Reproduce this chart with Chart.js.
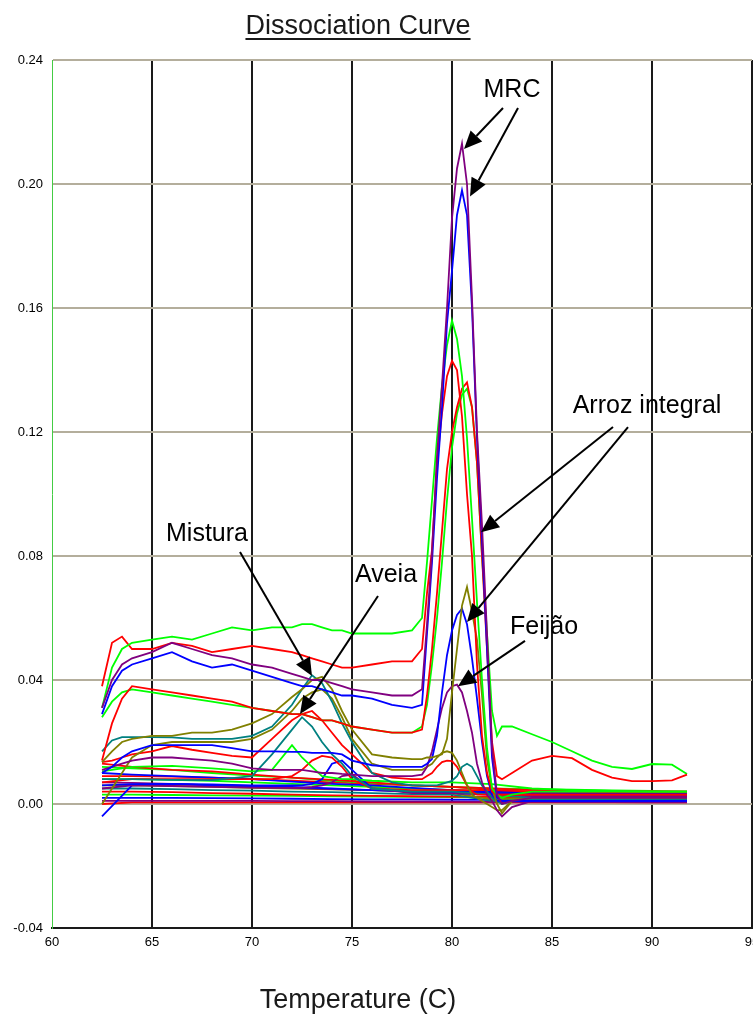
<!DOCTYPE html>
<html>
<head>
<meta charset="utf-8">
<title>Dissociation Curve</title>
<script src="https://cdn.jsdelivr.net/npm/chart.js@4.4.1/dist/chart.umd.min.js"></script>
<style>
  html, body { margin: 0; padding: 0; background: #fff; overflow: hidden; }
  #wrap { position: relative; width: 753px; height: 1014px; overflow: hidden; }
  canvas { display: block; }
</style>
</head>
<body>
<div id="wrap"><canvas id="myChart" width="770" height="1014"></canvas></div>
<script>
// textos
const chartTitle = 'Dissociation Curve';
const xTitle = 'Temperature (C)';

// eixos
const xTicks = [60, 65, 70, 75, 80, 85, 90, 95];
const yTicks = [-0.04, 0.00, 0.04, 0.08, 0.12, 0.16, 0.20, 0.24];

// temperaturas (grade fina perto do pico)
const temps = [62.5, 63, 63.5, 64, 65, 66, 67, 68, 69, 70, 71, 72, 72.5, 73, 73.5, 74, 74.5, 75, 76, 77, 78,
  78.5, 78.75, 79, 79.25, 79.5, 79.75, 80, 80.25, 80.5, 80.75, 81, 81.25, 81.5, 81.75, 82, 82.25, 82.5,
  83, 84, 85, 86, 87, 88, 89, 90, 91, 91.75];
const tempsBump = [62.5, 64, 66, 68, 70, 71, 72, 72.5, 73, 73.5, 74, 74.5, 75, 76, 78, 80, 82, 84, 86, 88, 90, 91.75];
const tempsBase = [62.5, 64, 66, 68, 70, 72, 74, 76, 78, 80, 82, 84, 86, 88, 90, 91.75];

// curvas com pico (derivada da fluorescencia)
const mrcPurple = [0.031, 0.040, 0.045, 0.047, 0.049, 0.052, 0.050, 0.048, 0.047, 0.045, 0.044, 0.042, 0.041, 0.040, 0.040, 0.039, 0.038, 0.037, 0.036, 0.035, 0.035,
  0.037, 0.058, 0.081, 0.112, 0.135, 0.160, 0.189, 0.205, 0.213, 0.200, 0.163, 0.120, 0.090, 0.055, 0.018, 0.003, 0.000,
  0.001, 0.002, 0.002, 0.002, 0.002, 0.002, 0.002, 0.002, 0.002, 0.002];
const mrcBlue = [0.029, 0.038, 0.043, 0.045, 0.047, 0.049, 0.046, 0.044, 0.045, 0.043, 0.041, 0.039, 0.038, 0.038, 0.037, 0.036, 0.035, 0.035, 0.034, 0.032, 0.031,
  0.032, 0.055, 0.078, 0.105, 0.128, 0.155, 0.172, 0.190, 0.198, 0.190, 0.160, 0.118, 0.085, 0.050, 0.015, 0.002, 0.001,
  0.001, 0.001, 0.001, 0.001, 0.001, 0.001, 0.001, 0.001, 0.001, 0.001];
const greenTop = [0.031, 0.044, 0.050, 0.052, 0.053, 0.054, 0.053, 0.055, 0.057, 0.056, 0.057, 0.057, 0.058, 0.058, 0.057, 0.056, 0.056, 0.055, 0.055, 0.055, 0.056,
  0.060, 0.078, 0.098, 0.118, 0.135, 0.148, 0.156, 0.150, 0.138, 0.118, 0.092, 0.065, 0.040, 0.018, 0.005, 0.003, 0.002,
  0.003, 0.004, 0.004, 0.004, 0.004, 0.004, 0.004, 0.004, 0.004, 0.004];
const redTop = [0.038, 0.052, 0.054, 0.050, 0.050, 0.052, 0.051, 0.049, 0.050, 0.051, 0.050, 0.049, 0.048, 0.047, 0.046, 0.045, 0.044, 0.044, 0.045, 0.046, 0.046,
  0.050, 0.068, 0.082, 0.110, 0.126, 0.138, 0.143, 0.140, 0.125, 0.100, 0.080, 0.045, 0.022, 0.010, 0.004, 0.003, 0.003,
  0.003, 0.003, 0.003, 0.003, 0.003, 0.003, 0.003, 0.003, 0.003, 0.003];
const redMid = [0.014, 0.026, 0.034, 0.038, 0.037, 0.036, 0.035, 0.034, 0.033, 0.031, 0.030, 0.029, 0.029, 0.028, 0.027, 0.027, 0.026, 0.025, 0.024, 0.023, 0.023,
  0.024, 0.035, 0.050, 0.068, 0.088, 0.108, 0.120, 0.128, 0.134, 0.136, 0.128, 0.110, 0.080, 0.050, 0.020, 0.009, 0.008,
  0.010, 0.014, 0.0155, 0.0148, 0.011, 0.0085, 0.0074, 0.0074, 0.0076, 0.0095];
const greenMid = [0.028, 0.033, 0.036, 0.037, 0.036, 0.035, 0.034, 0.033, 0.032, 0.031, 0.030, 0.029, 0.029, 0.028, 0.027, 0.027, 0.026, 0.025, 0.024, 0.023, 0.023,
  0.025, 0.032, 0.045, 0.060, 0.078, 0.098, 0.115, 0.126, 0.132, 0.134, 0.128, 0.110, 0.080, 0.055, 0.030, 0.022, 0.025,
  0.025, 0.0225, 0.020, 0.017, 0.014, 0.012, 0.0113, 0.0129, 0.0127, 0.0097];
const oliveArroz = [0.0135, 0.017, 0.020, 0.021, 0.022, 0.022, 0.023, 0.023, 0.024, 0.026, 0.029, 0.0345, 0.037, 0.040, 0.041, 0.037, 0.030, 0.024, 0.016, 0.015, 0.0145,
  0.0145, 0.015, 0.015, 0.0155, 0.016, 0.021, 0.036, 0.050, 0.064, 0.070, 0.062, 0.053, 0.035, 0.0145, 0.005, 0.000, -0.003,
  0.001, 0.002, 0.002, 0.002, 0.002, 0.002, 0.002, 0.002, 0.002, 0.002];
const blueArroz = [0.010, 0.012, 0.015, 0.017, 0.019, 0.019, 0.019, 0.019, 0.018, 0.017, 0.017, 0.0168, 0.0168, 0.0165, 0.0165, 0.0165, 0.016, 0.014, 0.0125, 0.012, 0.012,
  0.012, 0.013, 0.0145, 0.022, 0.036, 0.048, 0.056, 0.061, 0.063, 0.058, 0.047, 0.034, 0.020, 0.009, 0.003, 0.001, 0.001,
  0.001, 0.001, 0.001, 0.001, 0.001, 0.001, 0.001, 0.001, 0.001, 0.001];
const purpleFeijao = [0.011, 0.012, 0.013, 0.014, 0.015, 0.015, 0.0145, 0.014, 0.013, 0.0115, 0.011, 0.011, 0.011, 0.0105, 0.010, 0.010, 0.0097, 0.0095, 0.009, 0.009, 0.009,
  0.0095, 0.012, 0.017, 0.024, 0.031, 0.036, 0.038, 0.0385, 0.036, 0.030, 0.023, 0.013, 0.007, 0.003, 0.001, -0.002, -0.004,
  -0.001, 0.001, 0.001, 0.001, 0.001, 0.001, 0.001, 0.001, 0.001, 0.001];
const tealMistura = [0.017, 0.0205, 0.0216, 0.0216, 0.0216, 0.0215, 0.021, 0.021, 0.021, 0.022, 0.025, 0.032, 0.037, 0.0415, 0.039, 0.033, 0.026, 0.020, 0.010, 0.007, 0.006,
  0.006, 0.006, 0.006, 0.006, 0.0065, 0.007, 0.0075, 0.009, 0.012, 0.013, 0.012, 0.009, 0.006, 0.004, 0.002, 0.001, 0.000,
  0.001, 0.001, 0.001, 0.001, 0.001, 0.001, 0.001, 0.001, 0.001, 0.001];
const oliveLow = [0.000, 0.005, 0.010, 0.015, 0.019, 0.020, 0.020, 0.020, 0.020, 0.021, 0.024, 0.030, 0.034, 0.036, 0.037, 0.034, 0.028, 0.021, 0.013, 0.011, 0.011,
  0.011, 0.012, 0.013, 0.015, 0.0165, 0.017, 0.0165, 0.014, 0.010, 0.006, 0.003, 0.002, 0.001, 0.000, -0.001, -0.002, -0.002,
  0.001, 0.001, 0.001, 0.001, 0.001, 0.001, 0.001, 0.001, 0.001, 0.001];
const redAveia = [0.0135, 0.014, 0.015, 0.016, 0.017, 0.0187, 0.0175, 0.0165, 0.0155, 0.015, 0.021, 0.027, 0.029, 0.030, 0.027, 0.023, 0.019, 0.016, 0.010, 0.0085, 0.008,
  0.008, 0.009, 0.010, 0.012, 0.0135, 0.014, 0.0138, 0.012, 0.009, 0.006, 0.004, 0.003, 0.003, 0.003, 0.003, 0.003, 0.003,
  0.003, 0.003, 0.003, 0.003, 0.003, 0.003, 0.003, 0.003, 0.003, 0.003];

// pequenas elevacoes (grade media)
const tealAveia = [0.008, 0.008, 0.0078, 0.0077, 0.009, 0.016, 0.024, 0.028, 0.025, 0.020, 0.016, 0.013, 0.009, 0.005, 0.004, 0.004, 0.003, 0.002, 0.002, 0.002, 0.002, 0.002];
const greenBump = [0.0105, 0.012, 0.0123, 0.0115, 0.0105, 0.011, 0.019, 0.015, 0.012, 0.009, 0.0085, 0.008, 0.008, 0.0075, 0.007, 0.007, 0.0064, 0.005, 0.0045, 0.0042, 0.004, 0.004];
const redBump = [0.007, 0.008, 0.008, 0.008, 0.008, 0.008, 0.009, 0.011, 0.014, 0.0155, 0.015, 0.012, 0.008, 0.005, 0.0045, 0.0045, 0.0045, 0.004, 0.004, 0.004, 0.004, 0.004];
const blueBump = [0.006, 0.0064, 0.0065, 0.0063, 0.006, 0.006, 0.006, 0.006, 0.0065, 0.008, 0.013, 0.014, 0.011, 0.005, 0.004, 0.004, 0.0035, 0.003, 0.003, 0.003, 0.003, 0.003];
const purpleBump = [0.005, 0.006, 0.0058, 0.0055, 0.0053, 0.0052, 0.0052, 0.0052, 0.0055, 0.006, 0.007, 0.009, 0.0095, 0.005, 0.0035, 0.0035, 0.003, 0.0025, 0.0025, 0.0025, 0.0025, 0.0025];

// linhas de base (brancos / sem produto)
const baseRed1 = [0.013, 0.012, 0.011, 0.0105, 0.0095, 0.0085, 0.0078, 0.007, 0.006, 0.0055, 0.005, 0.0045, 0.0042, 0.004, 0.004, 0.004];
const baseGreen1 = [0.012, 0.0115, 0.011, 0.010, 0.0092, 0.0085, 0.0075, 0.0068, 0.006, 0.0055, 0.005, 0.0048, 0.0046, 0.0044, 0.0042, 0.004];
const baseBlue3 = [0.010, 0.0095, 0.009, 0.0085, 0.008, 0.0072, 0.0065, 0.006, 0.0052, 0.0045, 0.004, 0.0037, 0.0035, 0.0034, 0.0033, 0.0033];
const baseRed2 = [0.009, 0.009, 0.0088, 0.0085, 0.008, 0.0075, 0.007, 0.0065, 0.006, 0.0055, 0.0045, 0.004, 0.0038, 0.0036, 0.0035, 0.0035];
const baseGreen2 = [0.008, 0.008, 0.0078, 0.0075, 0.007, 0.0065, 0.006, 0.0055, 0.005, 0.0045, 0.004, 0.0038, 0.0036, 0.0034, 0.0033, 0.0033];
const baseBlue1 = [-0.004, 0.006, 0.0065, 0.006, 0.0058, 0.0055, 0.005, 0.0045, 0.004, 0.0035, 0.003, 0.003, 0.0028, 0.0026, 0.0025, 0.0025];
const basePurple1 = [0.007, 0.0068, 0.0065, 0.006, 0.0056, 0.0052, 0.0048, 0.0045, 0.0042, 0.004, 0.0038, 0.0035, 0.0033, 0.003, 0.003, 0.003];
const baseOlive1 = [0.006, 0.006, 0.0058, 0.0055, 0.0052, 0.005, 0.0047, 0.0045, 0.004, 0.0035, 0.0015, 0.002, 0.002, 0.002, 0.002, 0.002];
const baseTeal1 = [0.005, 0.005, 0.0048, 0.0045, 0.0043, 0.004, 0.0038, 0.0035, 0.0032, 0.003, 0.001, 0.0015, 0.0015, 0.0015, 0.0015, 0.0015];
const baseRed3 = [0.004, 0.004, 0.0038, 0.0035, 0.0033, 0.003, 0.0028, 0.0026, 0.0025, 0.0024, 0.0023, 0.0022, 0.0021, 0.002, 0.002, 0.002];
const baseGreen3 = [0.003, 0.003, 0.0029, 0.0028, 0.0027, 0.0026, 0.0025, 0.0024, 0.0023, 0.0022, 0.0021, 0.002, 0.0018, 0.0016, 0.0015, 0.0015];
const baseBlue2 = [0.002, 0.002, 0.002, 0.0019, 0.0018, 0.0017, 0.0016, 0.0015, 0.0015, 0.0014, 0.0013, 0.0012, 0.0011, 0.001, 0.001, 0.001];
const basePurple2 = [0.001, 0.001, 0.001, 0.001, 0.001, 0.0009, 0.0009, 0.0008, 0.0008, 0.0008, 0.0007, 0.0007, 0.0006, 0.0006, 0.0005, 0.0005];
const baseRed4 = [0.000, 0.0005, 0.0005, 0.0005, 0.0005, 0.0005, 0.0005, 0.0005, 0.0005, 0.0005, 0.0005, 0.0005, 0.0005, 0.0005, 0.0005, 0.0005];

// cores do software do termociclador
const RED = '#ff0000', GREEN = '#00ff00', BLUE = '#0000ff', PURPLE = '#800080', OLIVE = '#808000', TEAL = '#008080';

const curves = [
  [mrcPurple, temps, PURPLE], [mrcBlue, temps, BLUE], [greenTop, temps, GREEN], [redTop, temps, RED],
  [redMid, temps, RED], [greenMid, temps, GREEN], [oliveArroz, temps, OLIVE], [blueArroz, temps, BLUE],
  [purpleFeijao, temps, PURPLE], [tealMistura, temps, TEAL], [oliveLow, temps, OLIVE], [redAveia, temps, RED],
  [tealAveia, tempsBump, TEAL], [greenBump, tempsBump, GREEN], [redBump, tempsBump, RED],
  [blueBump, tempsBump, BLUE], [purpleBump, tempsBump, PURPLE],
  [baseRed1, tempsBase, RED], [baseGreen1, tempsBase, GREEN], [baseBlue3, tempsBase, BLUE],
  [baseRed2, tempsBase, RED], [baseGreen2, tempsBase, GREEN], [baseBlue1, tempsBase, BLUE],
  [basePurple1, tempsBase, PURPLE], [baseOlive1, tempsBase, OLIVE], [baseTeal1, tempsBase, TEAL],
  [baseRed3, tempsBase, RED], [baseGreen3, tempsBase, GREEN], [baseBlue2, tempsBase, BLUE],
  [basePurple2, tempsBase, PURPLE], [baseRed4, tempsBase, RED]
];

// anotacoes: texto e setas em coordenadas de dados (temperatura, valor)
const notes = [
  { text: 'MRC', at: [83.0, 0.2303], arrows: [[82.55, 0.2245, 80.6, 0.2113], [83.3, 0.2245, 80.9, 0.196]] },
  { text: 'Arroz integral', at: [89.75, 0.1284], arrows: [[88.05, 0.1216, 81.45, 0.0877], [88.8, 0.1216, 80.75, 0.0587]] },
  { text: 'Mistura', at: [67.75, 0.0871], arrows: [[69.4, 0.0813, 73.0, 0.0413]] },
  { text: 'Aveia', at: [76.7, 0.0739], arrows: [[76.3, 0.0671, 72.4, 0.029]] },
  { text: 'Feijão', at: [84.6, 0.0571], arrows: [[83.65, 0.0526, 80.3, 0.038]] }
];

const FONT = '"Liberation Sans", Arial, Helvetica, sans-serif';

function drawArrow(ctx, x0, y0, x1, y1) {
  const a = Math.atan2(y1 - y0, x1 - x0);
  const len = 18, half = 8;
  const bx = x1 - len * Math.cos(a), by = y1 - len * Math.sin(a);
  ctx.beginPath();
  ctx.moveTo(x0, y0);
  ctx.lineTo(bx, by);
  ctx.stroke();
  ctx.beginPath();
  ctx.moveTo(x1, y1);
  ctx.lineTo(bx + half * Math.sin(a), by - half * Math.cos(a));
  ctx.lineTo(bx - half * Math.sin(a), by + half * Math.cos(a));
  ctx.closePath();
  ctx.fill();
}

const notesPlugin = {
  id: 'notes',
  afterDraw(chart) {
    const { ctx } = chart;
    const sx = chart.scales.x, sy = chart.scales.y;
    ctx.save();
    // titulo sublinhado e titulo do eixo x
    ctx.fillStyle = '#1a1a1a';
    ctx.textAlign = 'center';
    ctx.textBaseline = 'alphabetic';
    ctx.font = '27px ' + FONT;
    ctx.fillText(chartTitle, 358, 34);
    const w = ctx.measureText(chartTitle).width;
    ctx.fillRect(358 - w / 2, 38, w, 2);
    ctx.fillText(xTitle, 358, 1008);

    // rotulos com setas
    ctx.fillStyle = '#000';
    ctx.strokeStyle = '#000';
    ctx.lineWidth = 2;
    ctx.font = '25px ' + FONT;
    ctx.textBaseline = 'middle';
    notes.forEach(n => {
      ctx.fillText(n.text, sx.getPixelForValue(n.at[0]), sy.getPixelForValue(n.at[1]));
      n.arrows.forEach(p => {
        drawArrow(ctx, sx.getPixelForValue(p[0]), sy.getPixelForValue(p[1]),
          sx.getPixelForValue(p[2]), sy.getPixelForValue(p[3]));
      });
    });
    ctx.restore();
  }
};

const ctx = document.getElementById('myChart').getContext('2d');

new Chart(ctx, {
  type: 'line',
  data: {
    datasets: curves.map((c, i) => ({
      label: 'poço ' + (i + 1),
      data: c[1].map((t, j) => ({ x: t, y: c[0][j] })),
      borderColor: c[2],
      backgroundColor: c[2],
      borderWidth: 1.8,
      pointRadius: 0,
      tension: 0,
      fill: false
    }))
  },
  options: {
    responsive: false,
    animation: false,
    devicePixelRatio: 1,
    layout: { padding: { top: 60, right: 18, bottom: 0, left: 0 } },
    plugins: {
      legend: { display: false },
      tooltip: { enabled: false },
      title: { display: false }
    },
    scales: {
      x: {
        type: 'linear',
        min: xTicks[0],
        max: xTicks[xTicks.length - 1],
        afterBuildTicks: s => { s.ticks = xTicks.map(v => ({ value: v })); },
        ticks: { color: '#000', font: { family: FONT, size: 13 }, padding: 7, maxRotation: 0, autoSkip: false },
        grid: {
          color: c => (c.tick && c.tick.value === xTicks[0]) ? 'rgba(0,0,0,0)' : '#1a1a1a',
          lineWidth: 2,
          drawTicks: false
        },
        border: { color: '#1a1a1a', width: 2 },
        afterFit: s => { s.height = 86; s.paddingLeft = 0; s.paddingRight = 0; }
      },
      y: {
        type: 'linear',
        min: yTicks[0],
        max: yTicks[yTicks.length - 1],
        afterBuildTicks: s => { s.ticks = yTicks.map(v => ({ value: v })); },
        ticks: {
          color: '#000',
          font: { family: FONT, size: 13 },
          padding: 9,
          autoSkip: false,
          callback: v => (Math.abs(v) < 1e-9 ? 0 : v).toFixed(2)
        },
        grid: {
          color: c => (c.tick && c.tick.value === yTicks[0]) ? '#1a1a1a' : '#b4ae9c',
          lineWidth: 2,
          drawTicks: false
        },
        border: { color: '#44cc44', width: 1 },
        afterFit: s => { s.width = 52; s.paddingTop = 0; s.paddingBottom = 0; }
      }
    }
  },
  plugins: [notesPlugin]
});
</script>
</body>
</html>
